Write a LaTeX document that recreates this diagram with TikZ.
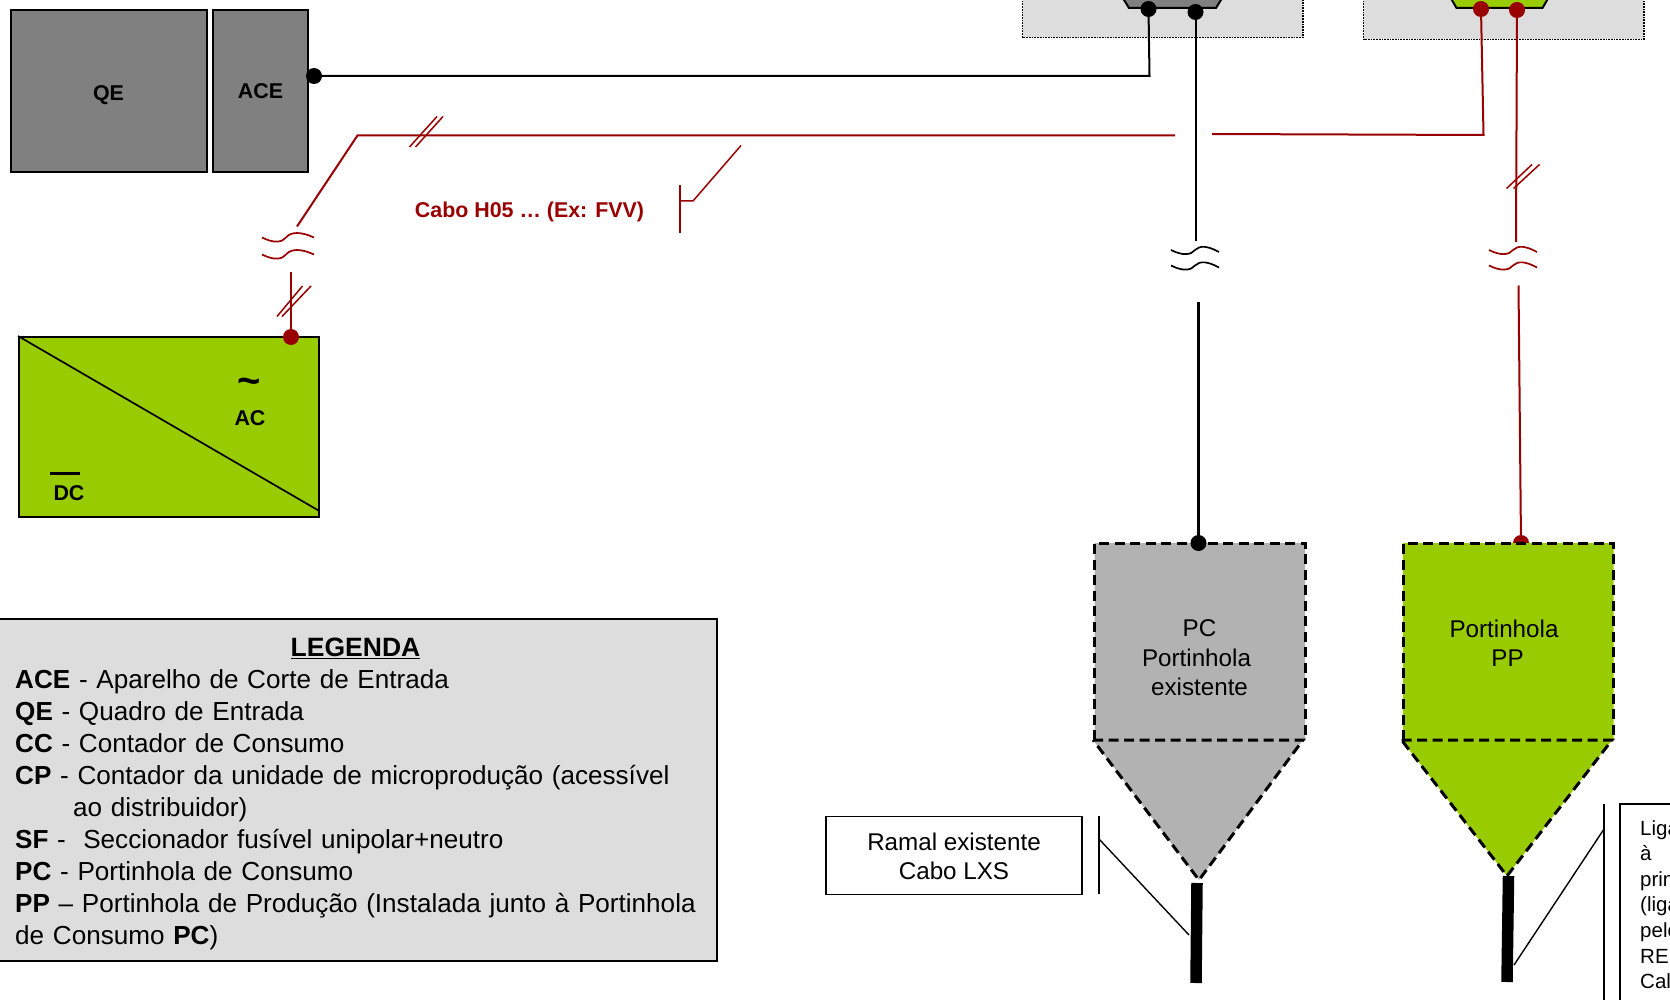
\documentclass[tikz,border=0pt]{standalone}
\usepackage{fontspec}
\setmainfont{Liberation Sans}
\definecolor{cablered}{HTML}{990000}
\definecolor{invgreen}{HTML}{99CC00}
\definecolor{panelgrey}{HTML}{DDDDDD}
\definecolor{portagrey}{HTML}{B2B2B2}
\definecolor{boardgrey}{HTML}{808080}
\tikzset{
    board/.style={draw, line width=2pt, fill=boardgrey, inner sep=0pt},
    meterbox/.style={draw, densely dotted, line width=1.7pt, fill=panelgrey},
    blackdot/.style={circle, fill=black, minimum size=16pt, inner sep=0pt},
    reddot/.style={circle, fill=cablered, minimum size=16pt, inner sep=0pt},
    blackwire/.style={line width=2pt},
    redwire/.style={line width=2pt, color=cablered},
    tick/.style={line width=1.5pt, color=cablered},
    portaline/.style={line width=3pt, dash pattern=on 10pt off 5.5pt},
    cablebar/.style={line width=11.5pt},
    callout/.style={line width=1.4pt},
    boldlabel/.style={font=\fontsize{21.4}{25}\selectfont\bfseries, inner sep=0pt},
    bodylabel/.style={font=\fontsize{24.2}{29}\selectfont, align=center, inner sep=0pt},
}
\begin{document}
\begin{tikzpicture}[yscale=-1, x=1pt, y=1pt]
    \useasboundingbox (0,0) rectangle (1670,1000) ;
    \clip (0,0) rectangle (1670,1000) ;

    \draw [meterbox] (1022.5,-10) rectangle (1303,37.5) ;
    \draw [meterbox] (1363.5,-10) rectangle (1644,39.5) ;
    \draw [blackwire, fill=boardgrey] (1121,-5) -- (1129,8) -- (1216,8) -- (1224,-5) ;
    \draw [blackwire, fill=invgreen] (1449,-5) -- (1456.5,8) -- (1542.5,8) -- (1550,-5) ;

    \node [board, minimum width=195.5pt, minimum height=162pt] (qe) at (108.75,91.5) {} ;
    \node [board, minimum width=95pt, minimum height=162pt] (ace) at (260.5,91.5) {} ;
    \node [boldlabel] (qeLabel) at (108.5,95.5) {QE} ;
    \node [boldlabel] (aceLabel) at (260.5,91.5) {ACE} ;

    \node [blackdot] (aceDot) at (314,76) {} ;
    \node [blackdot] (ccDotA) at (1148.5,9) {} ;
    \node [blackdot] (ccDotB) at (1195.5,12) {} ;
    \node [reddot] (cpDotA) at (1481,9) {} ;
    \node [reddot] (cpDotB) at (1517,10) {} ;

    \draw [blackwire] (aceDot.center) -- (1149.5,76) -- (ccDotA.center) ;

    \coordinate (netEnd) at (1195.5,241.5) ;
    \draw [blackwire] (ccDotB.center) -- (netEnd) ;

    \coordinate (cpBend) at (1483.5,135) ;
    \coordinate (cpEnd) at (1212,134) ;
    \draw [redwire] (cpDotA.center) -- (cpBend) -- (cpEnd) ;

    \coordinate (splitEnd) at (1175,135.5) ;
    \coordinate (splitBend) at (357.5,135.5) ;
    \coordinate (breakTop) at (297,226.5) ;
    \draw [redwire] (splitEnd) -- (splitBend) -- (breakTop) ;

    \coordinate (prodEnd) at (1516,242) ;
    \draw [redwire] (cpDotB.center) -- (prodEnd) ;

    \draw [tick] (1506.5,188.5) -- (1532,164.5) ;
    \draw [tick] (1513.5,188.5) -- (1539.5,164.5) ;
    \draw [tick] (409.5,147) -- (437,116.5) ;
    \draw [tick] (415.5,147) -- (443,116.5) ;
    \draw [tick] (277,316.5) -- (302.5,286) ;
    \draw [tick] (282,316.5) -- (311,286) ;

    \foreach \wy in {250,265.5} {
        \draw [blackwire, line width=1.7pt] (1171,\wy) .. controls (1183,\wy+6) and (1191,\wy+5) .. (1195,\wy) .. controls (1200,\wy-5) and (1208,\wy-4) .. (1219,\wy+2) ;
        \draw [redwire, line width=1.7pt] (1489,\wy) .. controls (1501,\wy+6) and (1509,\wy+5) .. (1513,\wy) .. controls (1518,\wy-5) and (1526,\wy-4) .. (1537,\wy+2) ;
    }
    \foreach \wy in {237.5,254.5} {
        \draw [redwire, line width=1.7pt] (262,\wy) .. controls (274,\wy+6) and (282,\wy+5) .. (286,\wy) .. controls (291,\wy-6) and (301,\wy-6) .. (314,\wy) ;
    }

    \node [draw, line width=2pt, fill=invgreen, minimum width=299.5pt, minimum height=180pt, inner sep=0pt] (inv) at (168.75,427) {} ;
    \draw [line width=1.7pt] (inv.north west) -- (318.5,510.5) ;
    \node [reddot] (invDot) at (291,337) {} ;
    \coordinate (invEnd) at (291,272) ;
    \draw [redwire] (invDot.center) -- (invEnd) ;
    \node [boldlabel, font=\fontsize{40}{42}\selectfont\bfseries] (acSign) at (249,386.5) {\char"007E} ;
    \node [boldlabel] (acLabel) at (250,418) {AC} ;
    \node [boldlabel] (dcLabel) at (69,493.5) {DC} ;
    \draw [line width=3.8pt] (50,473.5) -- (80,473.5) ;

    \node [boldlabel, text=cablered] (cabo) at (529.5,211.5) {Cabo H05 … (Ex: FVV)} ;
    \draw [redwire, line width=1.5pt] (680,185) -- (680,233.5) ;
    \draw [redwire, line width=1.5pt] (680,201) -- (693,201) -- (741,145.5) ;

    \node [reddot] (ppDot) at (1521,543) {} ;
    \coordinate (ppEnd) at (1518.5,285.5) ;
    \draw [redwire] (ppDot.center) -- (ppEnd) ;
    \coordinate (pcEnd) at (1198.5,301.5) ;

    \fill [portagrey] (1094.5,543) -- (1305,543) -- (1305,740) -- (1303,740) -- (1199,880) -- (1093,740) -- (1094.5,740) -- cycle ;
    \draw [portaline] (1094.5,740) -- (1094.5,543) -- (1305,543) -- (1305,740) ;
    \draw [portaline] (1093,740) -- (1303,740) -- (1199,880) -- cycle ;

    \fill [invgreen] (1403,543) -- (1613.5,543) -- (1613.5,740) -- (1612,740) -- (1507,876) -- (1401.5,740) -- (1403,740) -- cycle ;
    \draw [portaline] (1403,740) -- (1403,543) -- (1613.5,543) -- (1613.5,740) ;
    \draw [portaline] (1401.5,740) -- (1612,740) -- (1507,876) -- cycle ;

    \node [blackdot] (pcDot) at (1198.5,543) {} ;
    \draw [blackwire, line width=2.4pt] (pcDot.center) -- (pcEnd) ;

    \node [bodylabel] (pcLabelA) at (1199.5,628.5) {PC} ;
    \node [bodylabel] (pcLabelB) at (1196.5,658) {Portinhola} ;
    \node [bodylabel] (pcLabelC) at (1199.5,687) {existente} ;
    \node [bodylabel] (ppLabelA) at (1504,628.5) {Portinhola} ;
    \node [bodylabel] (ppLabelB) at (1507.5,658) {PP} ;

    \draw [cablebar] (1197,883) -- (1196,983) ;
    \draw [cablebar] (1508.5,876) -- (1507,982) ;

    \node [draw, line width=1.7pt, bodylabel, minimum width=256pt, minimum height=78pt] (ramal) at (954,855.5) {} ;
    \node [bodylabel] (ramalLabel) at (954,856.5) {Ramal existente\\Cabo LXS} ;
    \coordinate (ramalFoot) at (1189,935) ;
    \draw [callout] (1099,815.5) -- (1099,894) ;
    \draw [callout] (1099,839) -- (ramalFoot) ;

    \coordinate (ligFoot) at (1514,965) ;
    \draw [callout] (1604,804) -- (1604,1005) ;
    \draw [callout] (1604,829) -- (ligFoot) ;
    \draw [line width=1.7pt] (1700,804) -- (1620,804) -- (1620,1005) ;
    \node [anchor=north west, align=left, inner sep=0pt, font=\fontsize{20.5}{25.6}\selectfont] (lig) at (1640,820) {Liga\\à\\prin\\(liga\\pelo\\RE\\Cal} ;

    \node [draw, line width=2pt, fill=panelgrey, minimum width=727pt, minimum height=342pt, inner sep=0pt] (legendBox) at (353.5,790) {} ;
    \node [font=\fontsize{26.5}{32}\selectfont\bfseries, inner sep=0pt] (legendTitle) at (355.5,648) {\underline{LEGENDA}} ;
    \node [anchor=north west, align=left, inner sep=0pt, text width=700pt, font=\fontsize{26.1}{32}\selectfont] (legendText) at (15,669) {%
        \textbf{ACE} - Aparelho de Corte de Entrada\\
        \textbf{QE} - Quadro de Entrada\\
        \textbf{CC} - Contador de Consumo\\
        \textbf{CP} - Contador da unidade de microprodução (acessível\\
        \hspace*{58pt}ao distribuidor)\\
        \textbf{SF} -\ \ Seccionador fusível unipolar+neutro\\
        \textbf{PC} - Portinhola de Consumo\\
        \textbf{PP} – Portinhola de Produção (Instalada junto à Portinhola\\
        de Consumo \textbf{PC})} ;
\end{tikzpicture}
\end{document}
